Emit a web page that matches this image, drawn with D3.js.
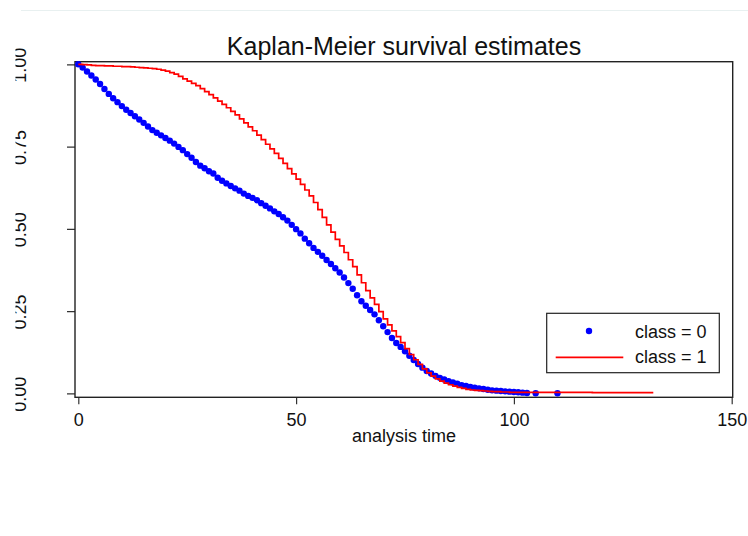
<!DOCTYPE html>
<meta charset="UTF-8">
<style>
    body { margin: 0; background: #fff; }
    text { font-family: "Liberation Sans", Arial, sans-serif; fill: #111; }
</style>
<body>
<div id="chart"></div>
<script src="https://d3js.org/d3.v7.min.js"></script>
<script>

// class = 0 : Kaplan-Meier estimates, drawn as dots
var blueTime = [0,1,2,3,4,5,6,7,8,9,10,11,12,13,14,15,16,17,18,19,20,21,22,23,24,25,26,27,28,29,
    30,31,32,33,34,35,36,37,38,39,40,41,42,43,44,45,46,47,48,49,50,51,52,53,54,55,56,57,58,59,
    60,61,62,63,64,65,66,67,68,69,70,71,72,73,74,75,76,77,78,79,80,81,82,83,84,85,86,87,88,89,
    90,91,92,93,94,95,96,97,98,99,100,101,102,103,105,110];
var blueSurv = [1.000,0.990,0.978,0.966,0.954,0.940,0.925,0.910,0.897,0.885,
    0.873,0.862,0.852,0.842,0.832,0.822,0.811,0.800,0.792,0.784,
    0.776,0.768,0.759,0.749,0.739,0.727,0.716,0.703,0.692,0.684,
    0.675,0.668,0.655,0.646,0.638,0.630,0.623,0.616,0.607,0.600,
    0.594,0.587,0.578,0.570,0.562,0.553,0.545,0.535,0.525,0.512,
    0.499,0.486,0.470,0.456,0.442,0.430,0.418,0.405,0.393,0.380,
    0.367,0.352,0.335,0.318,0.298,0.280,0.266,0.253,0.240,0.222,
    0.204,0.186,0.168,0.153,0.141,0.128,0.114,0.101,0.089,0.078,
    0.068,0.060,0.053,0.047,0.042,0.037,0.033,0.029,0.025,0.022,
    0.019,0.017,0.015,0.013,0.011,0.009,0.008,0.007,0.006,0.005,
    0.004,0.003,0.002,0.001,0.000,0.000];

// class = 1 : Kaplan-Meier estimates, drawn as a step line
var redTime = [0,1,2,3,4,5,6,7,8,9,10,11,12,13,14,15,16,17,18,19,20,21,22,23,24,25,26,27,28,29,
    30,31,32,33,34,35,36,37,38,39,40,41,42,43,44,45,46,47,48,49,50,51,52,53,54,55,56,57,58,59,
    60,61,62,63,64,65,66,67,68,69,70,71,72,73,74,75,76,77,78,79,80,81,82,83,84,85,86,87,88,89,
    90,91,92,93,94,95,96,97,98,99,100,118,132];
var redSurv = [1.000,0.999,0.998,0.997,0.996,0.996,0.995,0.995,0.994,0.994,
    0.993,0.993,0.992,0.991,0.990,0.989,0.988,0.987,0.985,0.982,
    0.979,0.975,0.970,0.963,0.956,0.949,0.942,0.935,0.926,0.917,
    0.908,0.898,0.888,0.878,0.868,0.857,0.846,0.834,0.822,0.810,
    0.798,0.785,0.771,0.757,0.743,0.729,0.714,0.699,0.683,0.667,
    0.651,0.635,0.618,0.600,0.580,0.558,0.535,0.512,0.490,0.468,
    0.448,0.428,0.406,0.385,0.360,0.336,0.312,0.290,0.270,0.248,
    0.226,0.208,0.190,0.172,0.154,0.136,0.118,0.102,0.088,0.074,
    0.062,0.052,0.044,0.037,0.031,0.026,0.022,0.018,0.015,0.012,
    0.010,0.009,0.008,0.007,0.006,0.005,0.005,0.004,0.004,0.003,
    0.003,0.002,0.002];

var xTicks = [0, 50, 100, 150];
var yTicks = [0, 0.25, 0.5, 0.75, 1];
var seriesNames = ["class = 0", "class = 1"];

var W = 748, H = 536;
var frame = {left: 75, top: 61.7, right: 732.7, bottom: 397.3};

var x = d3.scaleLinear().domain([0, 150]).range([78.3, 731.7]);
var y = d3.scaleLinear().domain([0, 1]).range([393.3, 64.3]);

var svg = d3.select("#chart").append("svg")
    .attr("width", W)
    .attr("height", H);

// faint line at the very top
svg.append("line")
    .attr("x1", 21).attr("x2", W)
    .attr("y1", 10.5).attr("y2", 10.5)
    .attr("stroke", "#e8f0f0").attr("stroke-width", 1);

// clip for the y labels (left edge is cut in the picture)
svg.append("clipPath").attr("id", "ylab-clip")
  .append("rect")
    .attr("x", 15.5).attr("y", 0).attr("width", W).attr("height", H);

// title
svg.append("text")
    .attr("x", 404).attr("y", 54.5)
    .attr("text-anchor", "middle")
    .style("font-size", "25px")
    .text("Kaplan-Meier survival estimates");

// Y axis (outer group holds the clip, inner group is shifted)
var yAxis = svg.append("g")
    .attr("clip-path", "url(#ylab-clip)")
  .append("g")
    .attr("transform", "translate(" + frame.left + ",0)")
    .call(d3.axisLeft(y).tickValues(yTicks).tickSize(8).tickFormat(d3.format(".2f")));
yAxis.select(".domain").remove();
yAxis.selectAll(".tick line").attr("stroke", "#333").attr("stroke-width", 1.2);
yAxis.selectAll(".tick text")
    .attr("x", 0).attr("dy", 0)
    .attr("transform", "translate(-49.5,0.5) rotate(-90)")
    .attr("text-anchor", "middle")
    .style("font-size", "18px")
    .attr("fill", "#111");

// X axis
var xAxis = svg.append("g")
    .attr("transform", "translate(0," + frame.bottom + ")")
    .call(d3.axisBottom(x).tickValues(xTicks).tickSize(7).tickPadding(9));
xAxis.select(".domain").remove();
xAxis.selectAll(".tick line").attr("stroke", "#333").attr("stroke-width", 1.2);
xAxis.selectAll(".tick text")
    .style("font-size", "18px")
    .attr("fill", "#111");

svg.append("text")
    .attr("x", 404).attr("y", 441.5)
    .attr("text-anchor", "middle")
    .style("font-size", "18px")
    .text("analysis time");

// plot region frame
svg.append("rect")
    .attr("x", frame.left).attr("y", frame.top)
    .attr("width", frame.right - frame.left)
    .attr("height", frame.bottom - frame.top)
    .attr("fill", "none")
    .attr("stroke", "#222").attr("stroke-width", 1.4);

// class 0 dots
var blue = blueTime.map(function(t, i) { return {t: t, s: blueSurv[i]}; });
svg.append("g").selectAll("circle")
    .data(blue)
  .enter().append("circle")
    .attr("cx", function(d) { return x(d.t); })
    .attr("cy", function(d) { return y(d.s); })
    .attr("r", 3.2)
    .attr("fill", "#0000ff");

// class 1 step line
var red = redTime.map(function(t, i) { return {t: t, s: redSurv[i]}; });
var stepLine = d3.line()
    .x(function(d) { return x(d.t); })
    .y(function(d) { return y(d.s); })
    .curve(d3.curveStepAfter);
svg.append("path")
    .datum(red)
    .attr("d", stepLine)
    .attr("fill", "none")
    .attr("stroke", "#ff0000")
    .attr("stroke-width", 1.7);

// legend
var lg = svg.append("g");
lg.append("rect")
    .attr("x", 546.7).attr("y", 313.3)
    .attr("width", 172.6).attr("height", 59.4)
    .attr("fill", "#fff")
    .attr("stroke", "#222").attr("stroke-width", 1.2);
lg.append("circle")
    .attr("cx", 589).attr("cy", 331).attr("r", 3.2)
    .attr("fill", "#0000ff");
lg.append("line")
    .attr("x1", 555.7).attr("x2", 623.3)
    .attr("y1", 357.3).attr("y2", 357.3)
    .attr("stroke", "#ff0000").attr("stroke-width", 1.7);
lg.selectAll("text.lab")
    .data(seriesNames)
  .enter().append("text")
    .attr("class", "lab")
    .attr("x", 635)
    .attr("y", function(d, i) { return i == 0 ? 337.5 : 363.3; })
    .style("font-size", "18px")
    .text(function(d) { return d; });

</script>
</body>
